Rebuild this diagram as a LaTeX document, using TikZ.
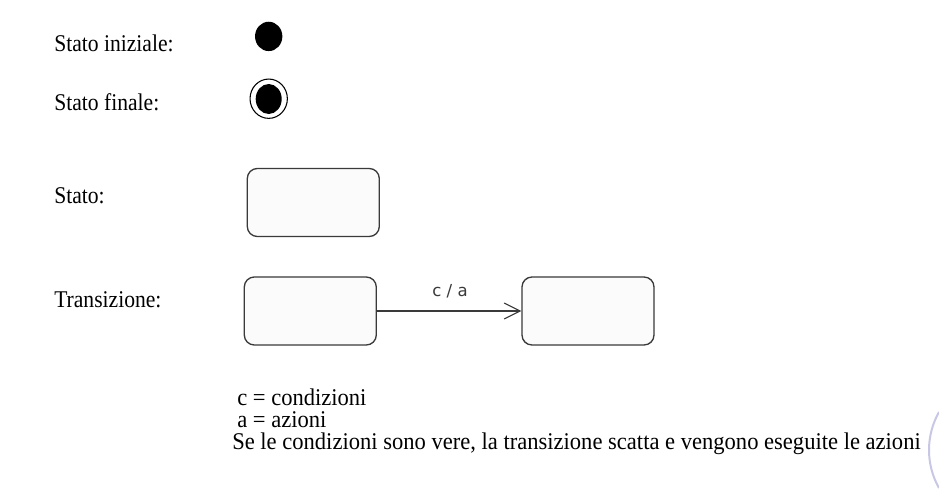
\documentclass[tikz,border=0pt]{standalone}
\usepackage{fontspec}
\setmainfont{Liberation Serif}[FakeStretch=0.9]
\newfontfamily\notafont{Liberation Serif}[FakeStretch=0.94]
\newfontfamily\etichettafont{DejaVu Sans}
\usetikzlibrary{shapes.geometric,arrows.meta}

\definecolor{bordo}{HTML}{3A3A3A}
\definecolor{riempi}{HTML}{FBFBFB}
\definecolor{sigillo}{HTML}{C8C8E6}

\tikzset{
  testo/.style = {inner sep=0pt, anchor=base west, font=\fontsize{18pt}{22pt}\selectfont},
  nota/.style = {inner sep=0pt, anchor=base west, font=\notafont\fontsize{18pt}{16pt}\selectfont},
  stato/.style = {draw=bordo, fill=riempi, line width=1pt, rounded corners=7.5pt,
                  minimum width=99pt, minimum height=51pt, inner sep=0pt},
  iniziale/.style = {ellipse, fill=black, inner sep=0pt, minimum width=20.5pt, minimum height=22pt},
  finale/.style = {ellipse, draw=black, line width=0.8pt, inner sep=0pt, minimum width=28pt, minimum height=29.5pt}
}

\begin{document}
\begin{tikzpicture}[x=0.75pt, y=-0.75pt]

    \useasboundingbox[fill=white] (0,0) rectangle (939,496);

    % legenda a sinistra
    \node[testo] (lini) at (54,51) {Stato iniziale:};
    \node[testo] (lfin) at (54,110) {Stato finale:};
    \node[testo] (lsta) at (54,203) {Stato:};
    \node[testo] (ltra) at (54,307) {Transizione:};

    % simboli
    \node[iniziale] (ini) at (268.7,36.4) {};
    \node[finale] (fin) at (268.7,98.7) {};
    \node[iniziale, minimum width=19.5pt, minimum height=22.5pt] (finin) at (268.7,99) {};

    \node[stato] (s1) at (313.3,202.5) {};

    \node[stato] (t1) at (310.3,311) {};
    \node[stato] (t2) at (588,311) {};
    \draw[bordo, line width=0.8pt, -{Straight Barb[length=12pt, width=12pt, line width=0.8pt]}] (t1.east) -- (t2.west);
    \node[inner sep=0pt, anchor=base, text=bordo, font=\etichettafont\fontsize{12.4pt}{14pt}\selectfont] (ca) at (450,296.7) {c / a};

    % note
    \node[nota] (n1) at (237,405) {c = condizioni};
    \node[nota] (n2) at (237,427) {a = azioni};
    \node[nota] (n3) at (232,449) {Se le condizioni sono vere, la transizione scatta e vengono eseguite le azioni};

    % sigillo
    \draw[sigillo, line width=1.5pt] (939,412) arc[start angle=209.5, end angle=150.5, radius=77.2];

\end{tikzpicture}
\end{document}
